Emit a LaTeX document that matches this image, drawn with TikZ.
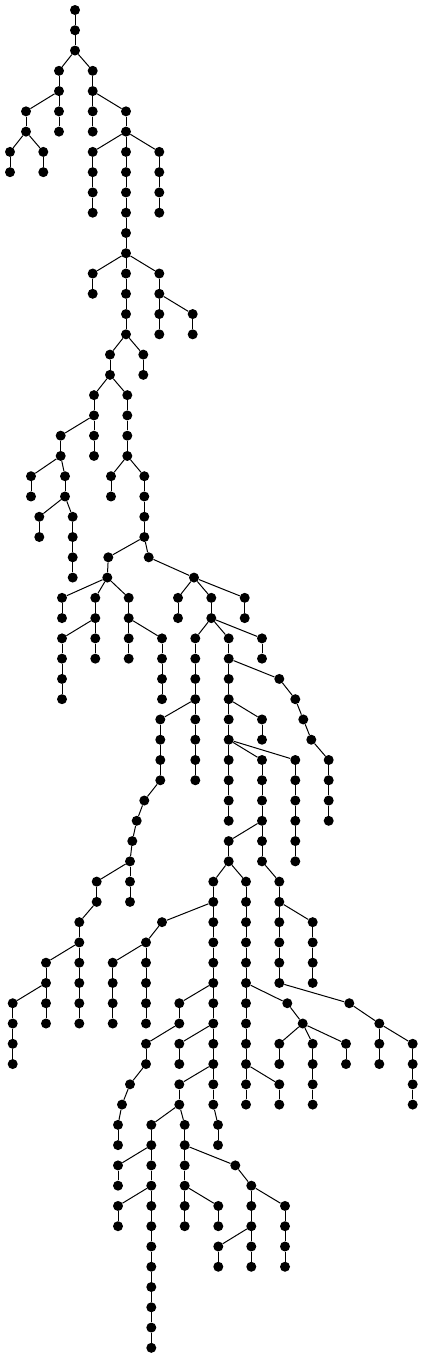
\documentclass[tikz,border=0pt]{standalone}
\usepackage{tikz}

\begin{document}
\begin{tikzpicture}[
    x=1pt, y=1pt,
    dot/.style={
        circle,
        fill=black,
        inner sep=0pt,
        minimum size=10pt
    },
    edge/.style={
        line width=1pt,
        black
    }
]
    \useasboundingbox (0,0) rectangle (423,-1358);

    % Root
    \node[dot] (v0) at (75,-10) {};

    % Vertices: name/x/level/parent
    \foreach \n/\x/\l/\p in {
        v1/75/1/v0, v2/75/2/v1, v3/59/3/v2, v4/92.7/3/v2, v5/59/4/v3, v6/92.7/4/v4,
        v7/26/5/v5, v8/59/5/v5, v9/92.7/5/v6, v10/126/5/v6,
        v11/26/6/v7, v12/59/6/v8, v13/92.7/6/v9, v14/126/6/v10,
        v15/10/7/v11, v16/43.3/7/v11, v17/92.7/7/v14, v18/126/7/v14, v19/159.3/7/v14,
        v20/10/8/v15, v21/43.3/8/v16, v22/92.7/8/v17, v23/126/8/v18, v24/159.3/8/v19,
        v25/92.7/9/v22, v26/126/9/v23, v27/159.3/9/v24,
        v28/92.7/10/v25, v29/126/10/v26, v30/159.3/10/v27,
        v31/126/11/v29, v32/126/12/v31,
        v33/92.7/13/v32, v34/126/13/v32, v35/159.3/13/v32,
        v36/92.7/14/v33, v37/126/14/v34, v38/159.3/14/v35,
        v39/126/15/v37, v40/159.3/15/v38, v41/192.7/15/v38,
        v42/126/16/v39, v43/159.3/16/v40, v44/192.7/16/v41,
        v45/110/17/v42, v46/143.3/17/v42, v47/110/18/v45, v48/143.3/18/v46,
        v49/94/19/v47, v50/127.3/19/v47, v51/94/20/v49, v52/127.3/20/v50,
        v53/60.7/21/v51, v54/94/21/v51, v55/127.3/21/v52,
        v56/60.7/22/v53, v57/94/22/v54, v58/127.3/22/v55,
        v59/31/23/v56, v60/65/23/v56, v61/111/23/v58, v62/144.3/23/v58,
        v63/31/24/v59, v64/65/24/v60, v65/111/24/v61, v66/144.3/24/v62,
        v67/39.3/25/v64, v68/72.7/25/v64, v69/144.3/25/v66,
        v70/39.3/26/v67, v71/72.7/26/v68, v72/144.3/26/v69,
        v73/72.7/27/v71, v74/108.3/27/v72, v75/148.7/27/v72,
        v76/72.7/28/v73, v77/107.3/28/v74, v78/194/28/v75,
        v79/62/29/v77, v80/95.3/29/v77, v81/128.7/29/v77,
        v82/178/29/v78, v83/211.3/29/v78, v84/244.7/29/v78,
        v85/62/30/v79, v86/95.3/30/v80, v87/128.7/30/v81,
        v88/178/30/v82, v89/211.3/30/v83, v90/244.7/30/v84,
        v91/62/31/v86, v92/95.3/31/v86, v93/128.7/31/v87, v94/162/31/v87,
        v95/195.3/31/v89, v96/228.7/31/v89, v97/262/31/v89,
        v98/62/32/v91, v99/95.3/32/v92, v100/128.7/32/v93, v101/162/32/v94,
        v102/195.3/32/v95, v103/228.7/32/v96, v104/262/32/v97,
        v105/62/33/v98, v106/162/33/v101, v107/195.3/33/v102,
        v108/228.7/33/v103, v109/279.3/33/v103,
        v110/62/34/v105, v111/162/34/v106, v112/195.3/34/v107,
        v113/228.7/34/v108, v114/295.3/34/v109,
        v115/160.3/35/v112, v116/195.3/35/v112, v117/228.7/35/v113,
        v118/262/35/v113, v119/303.3/35/v114,
        v120/160.3/36/v115, v121/195.3/36/v116, v122/228.7/36/v117,
        v123/262/36/v118, v124/311.3/36/v119,
        v125/160.3/37/v120, v126/195.3/37/v121, v127/228.7/37/v122,
        v128/262/37/v122, v129/295.3/37/v122, v130/328.7/37/v124,
        v131/160.3/38/v125, v132/195.3/38/v126, v133/228.7/38/v127,
        v134/262/38/v128, v135/295.3/38/v129, v136/328.7/38/v130,
        v137/144.3/39/v131, v138/228.7/39/v133, v139/262/39/v134,
        v140/295.3/39/v135, v141/328.7/39/v136,
        v142/136.7/40/v137, v143/228.7/40/v138, v144/262/40/v139,
        v145/295.3/40/v140, v146/328.7/40/v141,
        v147/132.3/41/v142, v148/228.7/41/v144, v149/262/41/v144, v150/295.3/41/v145,
        v151/130/42/v147, v152/228.7/42/v148, v153/262/42/v149, v154/295.3/42/v150,
        v155/96.7/43/v151, v156/130/43/v151, v157/213.3/43/v152,
        v158/246/43/v152, v159/279.3/43/v153,
        v160/96.7/44/v155, v161/130/44/v156, v162/213.3/44/v157,
        v163/246/44/v158, v164/279.3/44/v159,
        v165/79.3/45/v160, v166/162/45/v162, v167/213.3/45/v162,
        v168/246/45/v163, v169/279.3/45/v164, v170/312.7/45/v164,
        v171/79.3/46/v165, v172/146/46/v166, v173/213.3/46/v167,
        v174/246/46/v168, v175/279.3/46/v169, v176/312.7/46/v170,
        v177/46/47/v171, v178/79.3/47/v171, v179/112.7/47/v172, v180/146/47/v172,
        v181/213.3/47/v173, v182/246/47/v174, v183/279.3/47/v175, v184/312.7/47/v176,
        v185/46/48/v177, v186/79.3/48/v178, v187/112.7/48/v179, v188/146/48/v180,
        v189/213.3/48/v181, v190/246/48/v182, v191/279.3/48/v183, v192/312.7/48/v184,
        v193/12.7/49/v185, v194/46/49/v185, v195/79.3/49/v186, v196/112.7/49/v187,
        v197/146/49/v188, v198/179.3/49/v189, v199/213.3/49/v189,
        v200/246/49/v190, v201/287.3/49/v190, v202/349.3/49/v191,
        v203/12.7/50/v193, v204/46/50/v194, v205/79.3/50/v195, v206/112.7/50/v196,
        v207/146/50/v197, v208/179.3/50/v198, v209/213.3/50/v199,
        v210/246/50/v200, v211/302.7/50/v201, v212/379.3/50/v202,
        v213/12.7/51/v203, v214/146/51/v208, v215/179.3/51/v209, v216/213.3/51/v209,
        v217/246/51/v210, v218/279.3/51/v211, v219/312.7/51/v211, v220/346/51/v211,
        v221/379.3/51/v212, v222/412.7/51/v212,
        v223/12.7/52/v213, v224/146/52/v214, v225/179.3/52/v215, v226/213.3/52/v216,
        v227/246/52/v217, v228/279.3/52/v218, v229/312.7/52/v219, v230/346/52/v220,
        v231/379.3/52/v221, v232/412.7/52/v222,
        v233/130/53/v224, v234/179.3/53/v226, v235/213.3/53/v226,
        v236/246/53/v227, v237/279.3/53/v227, v238/312.7/53/v229, v239/412.7/53/v232,
        v240/122/54/v233, v241/179.3/54/v234, v242/213.3/54/v235,
        v243/246/54/v236, v244/279.3/54/v237, v245/312.7/54/v238, v246/412.7/54/v239,
        v247/118/55/v240, v248/151.3/55/v241, v249/184.7/55/v241, v250/218/55/v242,
        v251/118/56/v247, v252/151.3/56/v248, v253/184.7/56/v249, v254/218/56/v250,
        v255/118/57/v252, v256/151.3/57/v252, v257/184.7/57/v253, v258/235.3/57/v253,
        v259/118/58/v255, v260/151.3/58/v256, v261/184.7/58/v257, v262/251.3/58/v258,
        v263/118/59/v260, v264/151.3/59/v260, v265/184.7/59/v261,
        v266/218.3/59/v261, v267/251.3/59/v262, v268/285/59/v262,
        v269/118/60/v263, v270/151.3/60/v264, v271/184.7/60/v265,
        v272/218.3/60/v266, v273/251.3/60/v267, v274/285/60/v268,
        v275/151.3/61/v270, v276/218.3/61/v273, v277/251.3/61/v273, v278/285/61/v274,
        v279/151.3/62/v275, v280/218.3/62/v276, v281/251.3/62/v277, v282/285/62/v278,
        v283/151.3/63/v279, v284/151.3/64/v283, v285/151.3/65/v284, v286/151.3/66/v285} {
        \node[dot] (\n) at ({\x},{-10-20.27*\l}) {};
        \draw[edge] (\p) -- (\n);
    }

\end{tikzpicture}
\end{document}
